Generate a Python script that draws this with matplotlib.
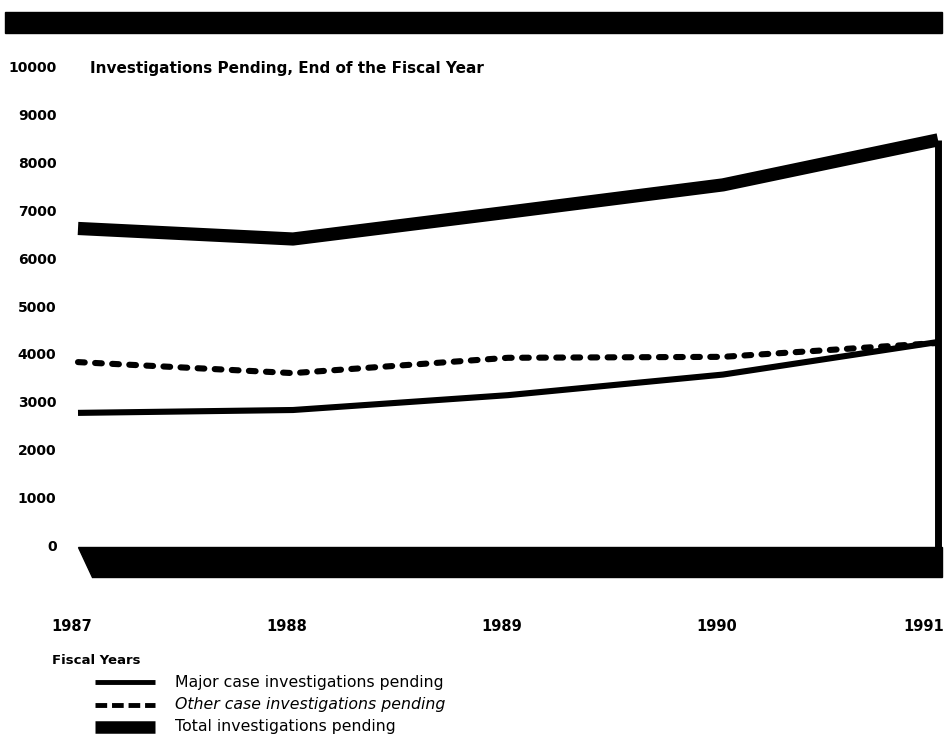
import matplotlib.pyplot as plt
from matplotlib.patches import Rectangle, Polygon
from matplotlib.lines import Line2D

plt.rcParams['font.family'] = ['DejaVu Sans']

years = [1987, 1988, 1989, 1990, 1991]
major = [2800, 2860, 3170, 3600, 4280]
other = [3860, 3630, 3950, 3970, 4260]
total = [6650, 6430, 6990, 7560, 8500]
y_ticks = list(range(0, 10001, 1000))

W, H = 947, 745
fig = plt.figure(figsize=(W / 100, H / 100), dpi=100)

# axes placed so that 1987..1991 -> px 78..938 and 0..10000 -> px 547..68
ax = fig.add_axes([78 / W, (H - 547) / H, 860 / W, (547 - 68) / H])
ax.set_xlim(1987, 1991)
ax.set_ylim(0, 10000)
for s in ax.spines.values():
    s.set_visible(False)
ax.set_xticks([])
ax.set_yticks([])

ax.plot(years, major, color='black', lw=4.4, solid_capstyle='butt', clip_on=False)
ax.plot(years, other, color='black', lw=4.4, linestyle=(0, (1.1, 1.7)),
        dash_capstyle='round', clip_on=False)
ax.plot(years, total, color='black', lw=9.5, solid_capstyle='butt',
        solid_joinstyle='round', clip_on=False)
# drop line at the last year
ax.plot([years[-1], years[-1]], [total[-1], 0], color='black', lw=5,
        solid_capstyle='butt', clip_on=False)

# baseline band under zero
band = Polygon([(years[0], 0), (years[-1] + 0.02, 0), (years[-1] + 0.02, -620),
                (years[0] + 0.065, -620)], closed=True, color='black', clip_on=False)
ax.add_patch(band)

# y labels
for v in y_ticks:
    ax.text(1987 - 0.1, v, str(v), ha='right', va='center', fontsize=10,
            fontweight='bold')
ax.text(1987 + 0.055, 10000, 'Investigations Pending, End of the Fiscal Year',
        ha='left', va='center', fontsize=11, fontweight='bold')

for yr in years:
    if yr == years[-1]:
        ax.text(yr + 0.03, -1670, str(yr), ha='right', va='center',
                fontsize=10.5, fontweight='bold')
    else:
        ax.text(yr - 0.03, -1670, str(yr), ha='center', va='center',
                fontsize=10.5, fontweight='bold')

fig.text(52 / W, 1 - 660 / H, 'Fiscal Years', ha='left', va='center',
         fontsize=9.5, fontweight='bold')

# top bar
fig.patches.append(Rectangle((5 / W, 1 - 33 / H), 937 / W, 21 / H,
                             transform=fig.transFigure, color='black'))

# legend
leg_rows = [
    ('Major case investigations pending', dict(lw=3.5), 'normal'),
    ('Other case investigations pending', dict(lw=3.5, linestyle=(0, (2.4, 1.0))), 'italic'),
    ('Total investigations pending', dict(lw=9), 'normal'),
]
for i, (label, kw, style) in enumerate(leg_rows):
    yy = 1 - (682 + i * 22.5) / H
    fig.add_artist(Line2D([95 / W, 155 / W], [yy, yy], color='black',
                          solid_capstyle='butt', transform=fig.transFigure, **kw))
    fig.text(175 / W, yy, label, ha='left', va='center', fontsize=11.3,
             style=style)

fig.savefig('out.png', dpi=100, facecolor='white')
